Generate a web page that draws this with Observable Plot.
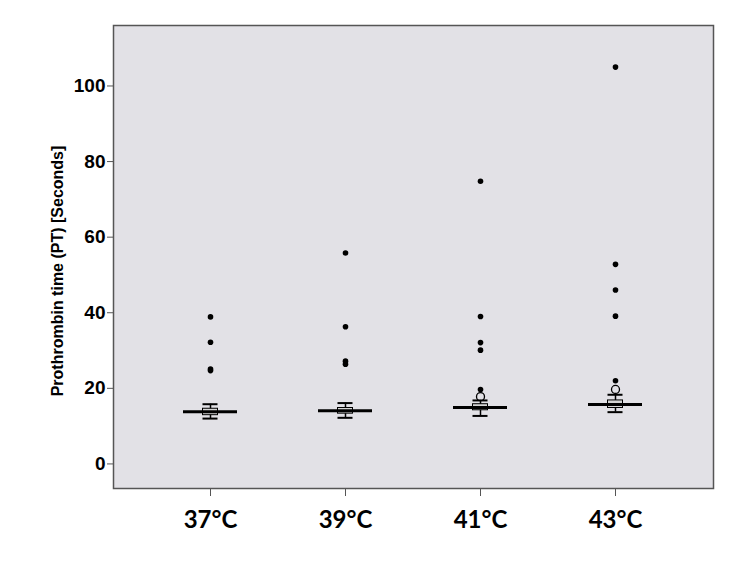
<!DOCTYPE html>
<html>
<head>
<meta charset="utf-8">
<script src="https://cdn.jsdelivr.net/npm/d3@7"></script>
<script src="https://cdn.jsdelivr.net/npm/@observablehq/plot@0.6"></script>
<style>
  body { margin: 0; background: #fff; }
  g[aria-label="y-axis tick label"] text { font-size: 19px !important; font-weight: bold; font-family: "Liberation Sans", Arial, sans-serif; }
  g[aria-label="x-axis tick label"] text { font-size: 24px !important; font-weight: bold; font-family: Lato, "Open Sans", sans-serif; }
</style>
</head>
<body>
<div id="chart"></div>
<script>
const categories = ["37°C", "39°C", "41°C", "43°C"];
const whiskerLow  = [12.0, 12.2, 12.7, 13.7];
const q1          = [12.9, 13.3, 14.2, 14.8];
const median      = [13.8, 14.1, 14.9, 15.7];
const q3          = [14.6, 14.8, 15.8, 16.8];
const whiskerHigh = [15.8, 16.1, 16.8, 18.3];
const outliers37 = [];
const outliers39 = [];
const outliers41 = [17.8];
const outliers43 = [19.7];
const extremes37 = [38.9, 32.2, 25.1, 24.7];
const extremes39 = [55.8, 36.3, 27.2, 26.4];
const extremes41 = [74.8, 39.0, 32.1, 30.1, 19.7];
const extremes43 = [105.0, 52.8, 46.0, 39.1, 22.0];
const yTicks = [0, 20, 40, 60, 80, 100];
const yLabel = "Prothrombin time (PT) [Seconds]";

const boxes = categories.map((c, i) => ({
  cat: c, low: whiskerLow[i], q1: q1[i], median: median[i], q3: q3[i], high: whiskerHigh[i]
}));
const outlierLists = [outliers37, outliers39, outliers41, outliers43];
const extremeLists = [extremes37, extremes39, extremes41, extremes43];
const outliers = categories.flatMap((c, i) => outlierLists[i].map(v => ({cat: c, v})));
const extremes = categories.flatMap((c, i) => extremeLists[i].map(v => ({cat: c, v})));

const inset = 19.5;
const chart = Plot.plot({
  width: 750,
  height: 563,
  marginLeft: 113,
  marginRight: 37,
  marginTop: 25,
  marginBottom: 75,
  style: {fontFamily: "Liberation Sans, Arial, sans-serif", color: "black", background: "white"},
  x: {type: "band", domain: categories, paddingInner: 0.598, paddingOuter: 0.52},
  y: {domain: [-6.5, 116]},
  marks: [
    Plot.frame({fill: "#e2e1e6"}),
    Plot.axisY({ticks: yTicks, tickSize: 6, tickPadding: 2, stroke: "#555", label: null}),
    Plot.axisX({tickSize: 8, tickPadding: 14, stroke: "#555", label: null}),
    Plot.text([yLabel], {text: d => d, frameAnchor: "left", textAnchor: "middle", lineAnchor: "middle",
      rotate: -90, dx: -56, dy: 14,
      fontSize: 16, fontWeight: "bold", fontFamily: "Liberation Sans, Arial, sans-serif", fill: "black"}),
    Plot.ruleX(boxes, {x: "cat", y1: "low", y2: "high", stroke: "black", strokeWidth: 1.5}),
    Plot.barY(boxes, {x: "cat", y1: "q1", y2: "q3", fill: "#d4d4d4", stroke: "black", strokeWidth: 1,
      insetLeft: inset, insetRight: inset}),
    Plot.tickY(boxes, {x: "cat", y: "low", stroke: "black", strokeWidth: 2, insetLeft: inset, insetRight: inset}),
    Plot.tickY(boxes, {x: "cat", y: "high", stroke: "black", strokeWidth: 2, insetLeft: inset, insetRight: inset}),
    Plot.tickY(boxes, {x: "cat", y: "median", stroke: "black", strokeWidth: 3}),
    Plot.dot(outliers, {x: "cat", y: "v", r: 4, stroke: "black", fill: "none", strokeWidth: 1.3}),
    Plot.dot(extremes, {x: "cat", y: "v", r: 2.8, fill: "black", stroke: "none"}),
    Plot.frame({stroke: "#555", strokeWidth: 1.5})
  ]
});
document.getElementById("chart").appendChild(chart);
</script>
</body>
</html>
